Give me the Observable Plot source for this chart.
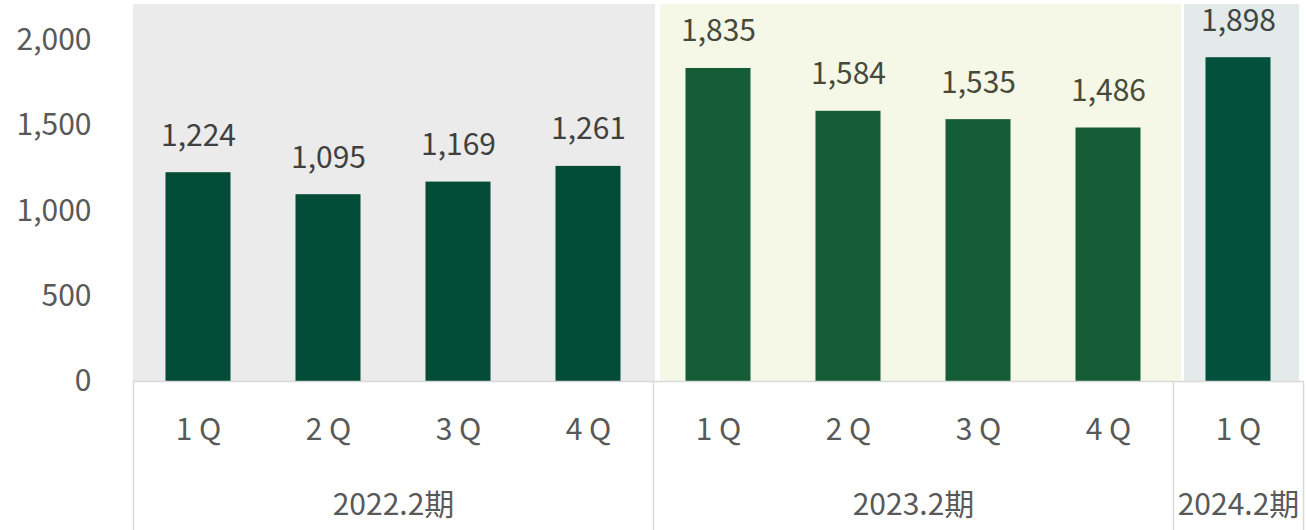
<!DOCTYPE html>
<html>
<head>
<meta charset="utf-8">
<script src="https://cdn.jsdelivr.net/npm/d3@7"></script>
<script src="https://cdn.jsdelivr.net/npm/@observablehq/plot@0.6"></script>
<style>
  html, body { margin: 0; padding: 0; background: #ffffff; }
  #chart svg { display: block; }
</style>
</head>
<body>
<div id="chart"></div>
<script>
// ---- data ----
const quarterLabels = ["1 Q", "2 Q", "3 Q", "4 Q", "1 Q", "2 Q", "3 Q", "4 Q", "1 Q"];
const values = [1224, 1095, 1169, 1261, 1835, 1584, 1535, 1486, 1898];
const groupNames = ["2022.2期", "2023.2期", "2024.2期"];
const groupSizes = [4, 4, 1];
const yTicks = [0, 500, 1000, 1500, 2000];

// styles (not data)
const panelFills = ["#ebebeb", "#f5f8e7", "#e4eae9"];
const barFills = ["#034c37", "#145d37", "#03513c"];
const labelFills = ["#404040", "#474a3a", "#3e4645"];

// build tables
const groups = [];
let start = 0;
groupNames.forEach((name, g) => {
  groups.push({name, g, start: start - 0.5, end: start + groupSizes[g] - 0.5, mid: start + (groupSizes[g] - 1) / 2});
  start += groupSizes[g];
});
const rows = values.map((v, i) => {
  const g = groups.findIndex(gr => i >= gr.start && i <= gr.end);
  return {i, value: v, q: quarterLabels[i], g};
});
const boundaries = [groups[0].start, ...groups.map(gr => gr.end)];

const fmt = d3.format(",");
const FONT = "'Noto Sans CJK JP', 'Noto Sans', sans-serif";

const panel = (g, inL, inR) => Plot.rect([groups[g]], {
  x1: "start", x2: "end", fill: panelFills[g], insetLeft: inL, insetRight: inR
});

const chart = Plot.plot({
  width: 1306,
  height: 530,
  marginLeft: 133,
  marginRight: 3,
  marginTop: 4,
  marginBottom: 149,
  style: {fontFamily: FONT, fontSize: "30px", background: "#ffffff"},
  x: {type: "linear", domain: [-0.5, 8.5], axis: null},
  y: {domain: [0, 2210], axis: null},
  marks: [
    panel(0, 0, -2),
    panel(1, 7, -8),
    panel(2, 11, 4),
    Plot.rectY(rows, {
      x1: d => d.i - 0.25, x2: d => d.i + 0.25, y: "value",
      fill: d => barFills[d.g]
    }),
    Plot.text(rows, {
      x: "i", y: "value", text: d => fmt(d.value),
      lineAnchor: "bottom", dy: -27, fill: d => labelFills[d.g]
    }),
    Plot.axisY({
      ticks: yTicks, tickSize: 0, tickPadding: 42, tickFormat: fmt,
      fill: "#595959", fontSize: 30, label: null
    }),
    Plot.ruleY([0], {stroke: "#d9d9d9", strokeWidth: 1.5}),
    Plot.ruleX(boundaries, {stroke: "#d9d9d9", strokeWidth: 1.5, insetTop: 377, insetBottom: -149}),
    Plot.text(rows, {
      x: "i", text: "q", frameAnchor: "bottom", lineAnchor: "middle", dy: 49, fill: "#595959"
    }),
    Plot.text(groups, {
      x: "mid", text: "name", frameAnchor: "bottom", lineAnchor: "middle", dy: 124, fill: "#595959"
    })
  ]
});
document.getElementById("chart").appendChild(chart);
</script>
</body>
</html>
